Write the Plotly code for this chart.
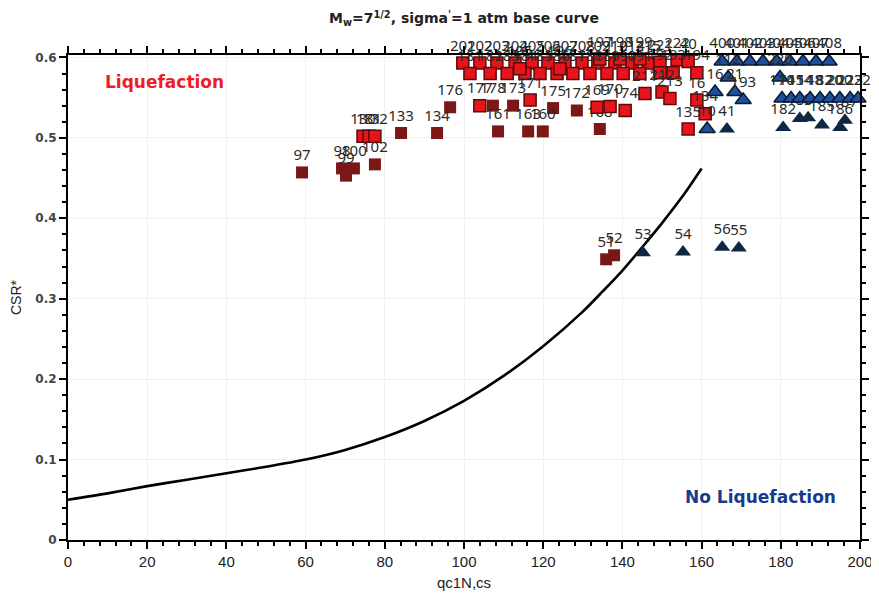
import plotly.graph_objects as go

# ---- base curve ----
curve_q = [0, 10, 20, 30, 40, 50, 60, 70, 80, 90, 100, 110, 120, 130, 135, 140, 145, 150, 155, 160]
curve_csr = [0.050, 0.058, 0.067, 0.075, 0.083, 0.091, 0.100, 0.112, 0.128, 0.148, 0.173,
             0.204, 0.241, 0.284, 0.309, 0.335, 0.364, 0.394, 0.426, 0.462]

# ---- liquefaction cases, dark squares ----
liq_dark_q = [59.1, 69.2, 70.2, 72.2, 77.5, 84.1, 93.2, 96.5, 108.6, 116.2, 119.9, 134.3,
              128.5, 122.5, 107.3, 112.4, 135.9, 137.9]
liq_dark_csr = [0.457, 0.462, 0.453, 0.462, 0.467, 0.506, 0.506, 0.538, 0.508, 0.508, 0.508, 0.511,
                0.534, 0.537, 0.540, 0.540, 0.349, 0.354]
liq_dark_id = ["97", "98", "99", "100", "102", "133", "134", "176", "161", "163", "160", "168",
               "172", "175", "178", "173", "51", "52"]

# ---- liquefaction cases, red squares ----
liq_red_q = [74.5, 76.0, 77.5, 104.0, 116.7, 133.6, 136.9, 140.7, 145.7, 150.0, 152.0, 158.8,
             160.9, 156.6,
             99.7, 104.0, 108.3, 112.9, 117.2, 121.2, 125.5, 129.8, 133.8, 138.1, 142.4, 146.5,
             149.5, 153.8, 156.6,
             101.5, 106.6, 110.9, 115.4, 119.2, 123.5, 127.5, 131.8, 136.1, 140.2, 144.4, 149.5,
             152.8, 158.8,
             114.1, 124.2, 134.3, 139.4, 144.4]
liq_red_csr = [0.502, 0.502, 0.502, 0.540, 0.547, 0.538, 0.539, 0.534, 0.555, 0.557, 0.549, 0.547,
               0.530, 0.511,
               0.593, 0.593, 0.593, 0.593, 0.593, 0.593, 0.593, 0.593, 0.593, 0.593, 0.593, 0.593,
               0.594, 0.597, 0.595,
               0.580, 0.580, 0.580, 0.580, 0.580, 0.580, 0.580, 0.580, 0.580, 0.580, 0.580, 0.581,
               0.581, 0.581,
               0.586, 0.586, 0.598, 0.598, 0.598]
liq_red_id = ["130", "131", "132", "177", "171", "169", "170", "174", "211", "212", "213", "16",
              "134", "135",
              "201", "202", "203", "204", "205", "206", "207", "208", "209", "210", "214", "215",
              "221", "222", "40",
              "181", "182", "183", "184", "185", "186", "187", "188", "189", "190", "191", "192",
              "193", "194",
              "195", "196", "197", "198", "199"]

# ---- no liquefaction cases, dark triangles ----
noliq_dark_q = [145.2, 155.3, 165.2, 169.4, 166.4, 180.6, 184.8, 186.9, 190.4, 195.0, 196.2]
noliq_dark_csr = [0.357, 0.358, 0.364, 0.363, 0.511, 0.513, 0.524, 0.525, 0.516, 0.513, 0.522]
noliq_dark_id = ["53", "54", "56", "55", "41", "182", "183", "184", "185", "186", "187"]

# ---- no liquefaction cases, blue triangles ----
noliq_blue_q = [161.4, 163.4, 168.4, 170.5, 166.7, 179.8,
                165.2, 168.9, 172.2, 175.5, 179.0, 182.3, 185.6, 188.9, 192.2,
                180.3, 182.6, 184.8, 187.4, 189.9, 192.4, 194.9, 197.5, 199.5]
noliq_blue_csr = [0.511, 0.557, 0.557, 0.547, 0.575, 0.575,
                  0.595, 0.595, 0.595, 0.595, 0.595, 0.595, 0.595, 0.595, 0.595,
                  0.549, 0.549, 0.549, 0.549, 0.549, 0.549, 0.549, 0.549, 0.549]
noliq_blue_id = ["10", "16", "21", "193", "112", "220",
                 "400", "401", "402", "403", "404", "405", "406", "407", "408",
                 "170", "141", "154", "148", "182", "120", "200", "223", "222"]

label_font = dict(family="Noto Sans", size=15, color="#2a2a2a")

fig = go.Figure()
fig.add_trace(go.Scatter(x=curve_q, y=curve_csr, mode="lines",
                         line=dict(color="black", width=2.6, shape="spline", smoothing=0.8),
                         hoverinfo="skip", showlegend=False))
fig.add_trace(go.Scatter(x=liq_dark_q, y=liq_dark_csr, text=liq_dark_id, mode="markers+text",
                         textposition="top center", textfont=label_font, cliponaxis=False,
                         marker=dict(symbol="square", size=12, color="#7a1717",
                                     line=dict(width=0)), showlegend=False))
fig.add_trace(go.Scatter(x=liq_red_q, y=liq_red_csr, text=liq_red_id, mode="markers+text",
                         textposition="top center", textfont=label_font, cliponaxis=False,
                         marker=dict(symbol="square", size=12, color="#e8141c",
                                     line=dict(width=1.5, color="#5a0a0a")), showlegend=False))
fig.add_trace(go.Scatter(x=noliq_dark_q, y=noliq_dark_csr, text=noliq_dark_id, mode="markers+text",
                         textposition="top center", textfont=label_font, cliponaxis=False,
                         marker=dict(symbol="triangle-up", size=14, color="#0d2744",
                                     line=dict(width=0)), showlegend=False))
fig.add_trace(go.Scatter(x=noliq_blue_q, y=noliq_blue_csr, text=noliq_blue_id, mode="markers+text",
                         textposition="top center", textfont=label_font, cliponaxis=False,
                         marker=dict(symbol="triangle-up", size=14, color="#1f4e9a",
                                     line=dict(width=1.5, color="#0a1a33")), showlegend=False))

fig.add_annotation(x=8.8, y=0.57, xref="x", yref="y", text="<b>Liquefaction</b>",
                   showarrow=False, xanchor="left", yanchor="middle",
                   font=dict(family="DejaVu Sans", size=17, color="#ee1c24"))
fig.add_annotation(x=155.3, y=0.053, xref="x", yref="y", text="<b>No Liquefaction</b>",
                   showarrow=False, xanchor="left", yanchor="middle",
                   font=dict(family="DejaVu Sans", size=17, color="#1a3a8a"))

narrow = "Liberation Sans Narrow, Arial Narrow, sans-serif"

fig.update_layout(
    width=871, height=587,
    margin=dict(l=60, r=19, t=47, b=55),
    paper_bgcolor="white", plot_bgcolor="white",
    title=dict(text="<b>M<sub>w</sub>=7<sup>1/2</sup>, sigma<sup>'</sup>=1 atm base curve</b>",
               x=0.5, xref="paper", xanchor="center", y=0.982, yanchor="middle", yref="container",
               font=dict(family="DejaVu Sans", size=14, color="#222222")),
    xaxis=dict(range=[0, 200], dtick=20, showline=True, linecolor="black", linewidth=2,
               mirror="ticks", ticks="outside", ticklen=7, tickcolor="black", tickwidth=1.5,
               minor=dict(dtick=4, ticks="outside", ticklen=4, tickcolor="black", showgrid=False),
               showgrid=True, gridcolor="#f1f1f1", zeroline=False, automargin=False,
               tickfont=dict(family=narrow, size=15, color="#222222"),
               title=dict(text="qc1N,cs", standoff=8,
                          font=dict(family=narrow, size=15, color="#222222"))),
    yaxis=dict(range=[0, 0.603], dtick=0.1, showline=True, linecolor="black", linewidth=2,
               mirror="ticks", ticks="outside", ticklen=7, tickcolor="black", tickwidth=1.5,
               minor=dict(dtick=0.02, ticks="outside", ticklen=4, tickcolor="black", showgrid=False),
               showgrid=True, gridcolor="#f1f1f1", zeroline=False, automargin=False,
               tickfont=dict(family="DejaVu Sans", size=12, color="#444444", weight="bold"),
               title=dict(text="CSR*", standoff=10,
                          font=dict(family=narrow, size=14, color="#222222"))),
)

fig.write_html("out.html")
